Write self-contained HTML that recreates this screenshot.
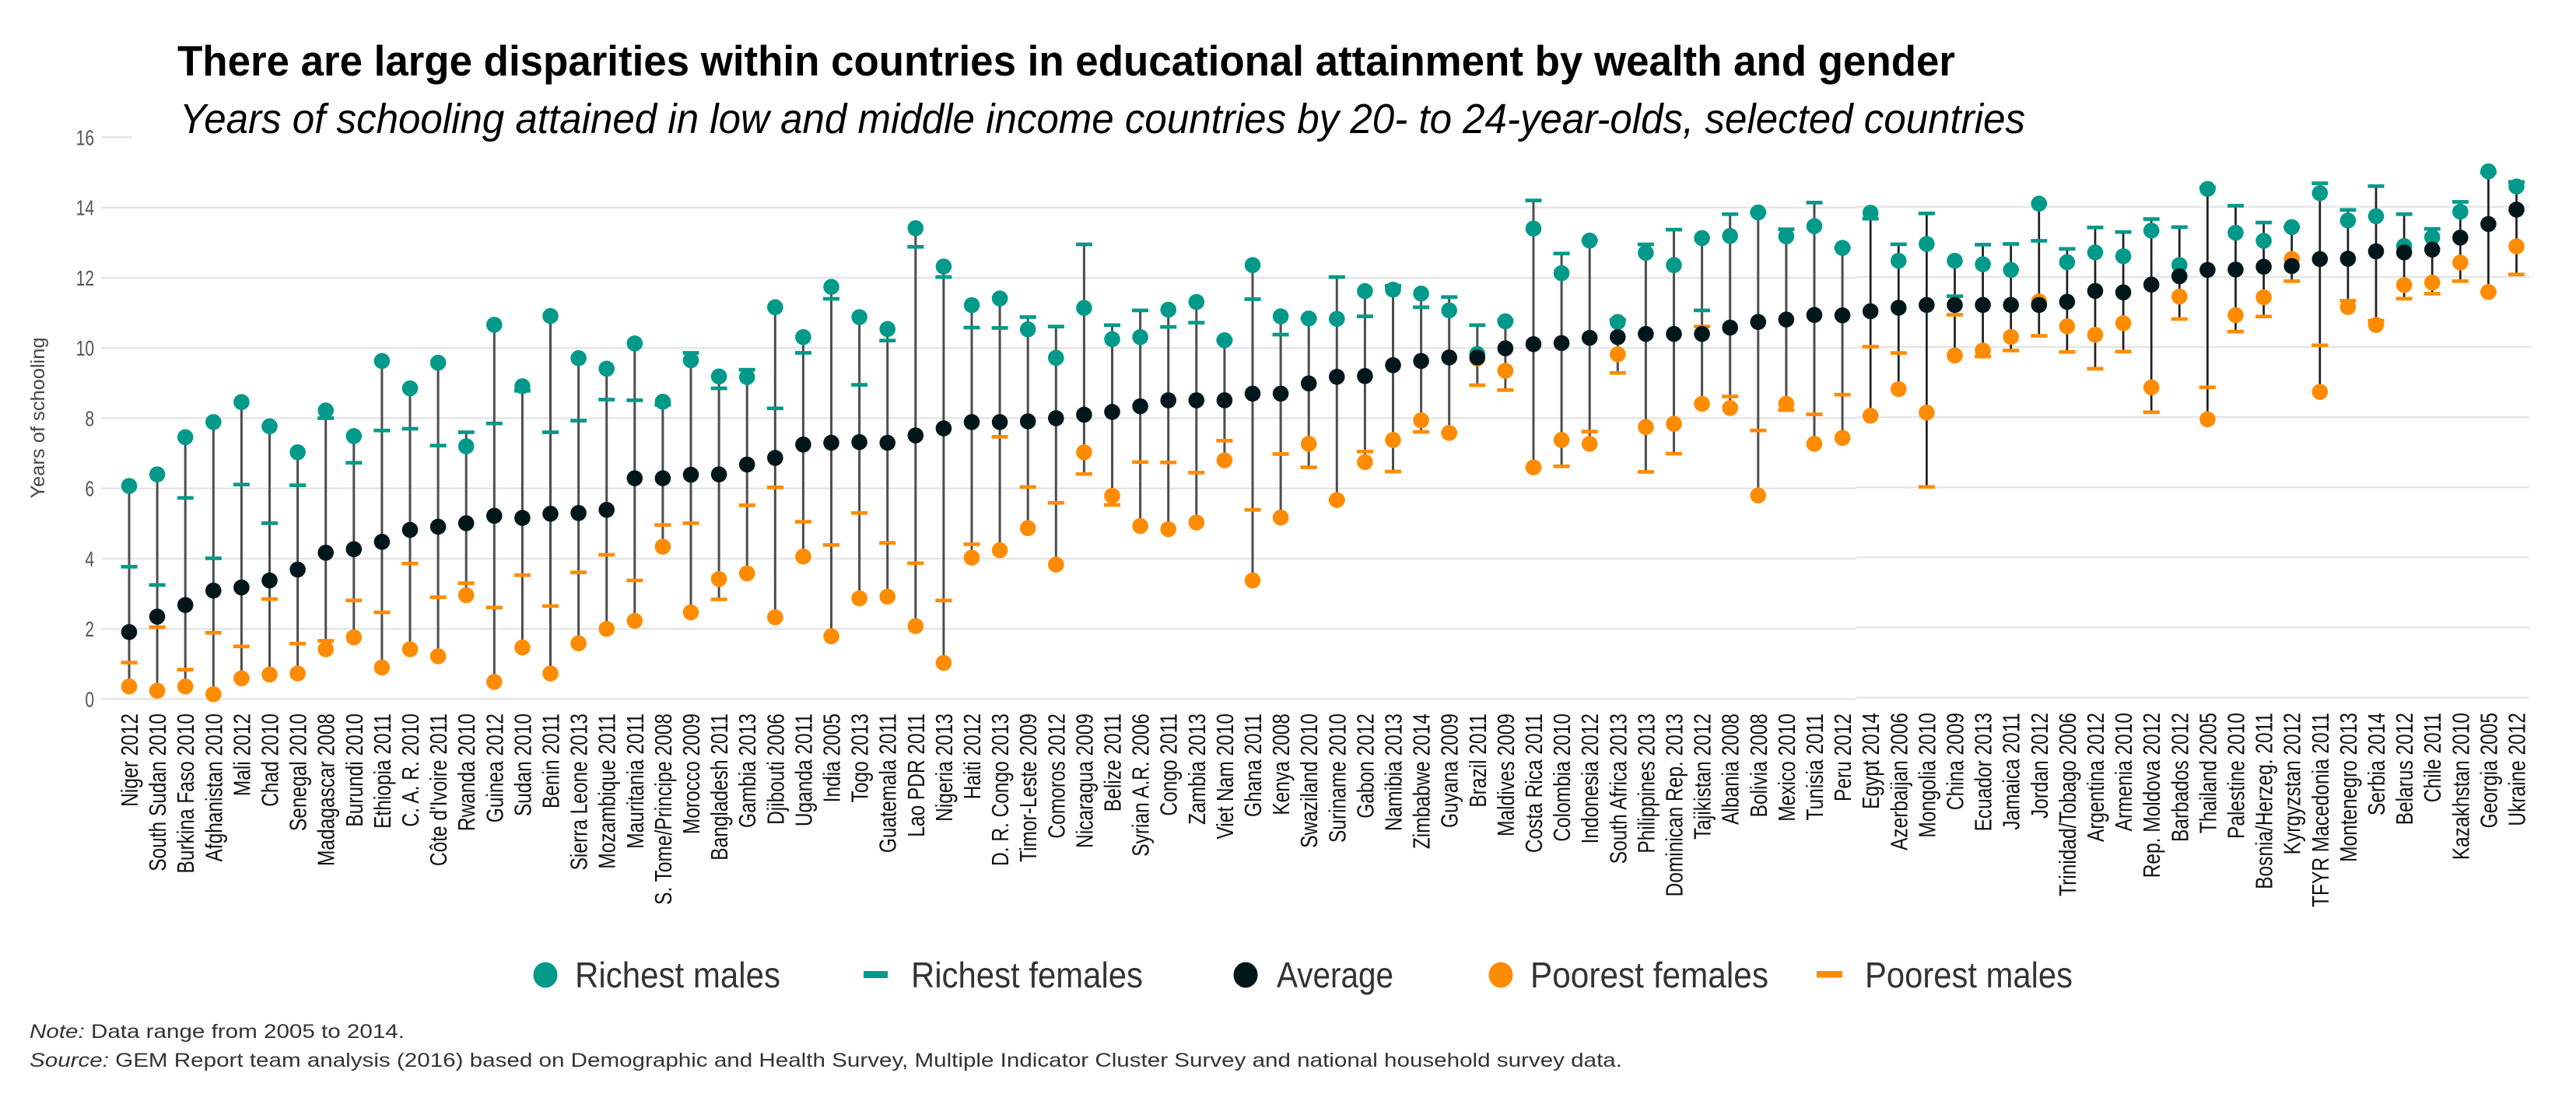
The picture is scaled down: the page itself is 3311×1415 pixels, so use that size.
<!DOCTYPE html>
<html><head><meta charset="utf-8">
<style>
html,body{margin:0;padding:0;background:#fff;}
body{width:3311px;height:1415px;overflow:hidden;}
svg{position:absolute;left:0;top:0;}
text{font-family:"Liberation Sans",sans-serif;}
</style></head>
<body>
<svg width="3311" height="1415" viewBox="0 0 3311 1415" xmlns="http://www.w3.org/2000/svg">
<defs>
<ellipse id="rm" rx="0.285" ry="0.228" fill="#00998a"/>
<ellipse id="pf" rx="0.285" ry="0.228" fill="#ff8c00"/>
<ellipse id="av" rx="0.285" ry="0.228" fill="#02171b"/>
<rect id="rf" x="-0.291" y="-0.052" width="0.582" height="0.104" fill="#00998a"/>
<rect id="pm" x="-0.291" y="-0.052" width="0.582" height="0.104" fill="#ff8c00"/>
<ellipse id="rmR" rx="0.285" ry="0.2285" fill="#00998a"/>
</defs>

<!-- gridlines -->
<g stroke="#e6e6e6" stroke-width="2.5">
<line x1="130" y1="176.4" x2="170" y2="176.4"/>
<line x1="130" y1="898.5" x2="2386" y2="898.5"/>
<line x1="130" y1="808.2" x2="2386" y2="808.2"/>
<line x1="130" y1="718.0" x2="2386" y2="718.0"/>
<line x1="130" y1="627.7" x2="2386" y2="627.7"/>
<line x1="130" y1="537.5" x2="2386" y2="537.5"/>
<line x1="130" y1="447.2" x2="2386" y2="447.2"/>
<line x1="130" y1="357.0" x2="2386" y2="357.0"/>
<line x1="130" y1="266.7" x2="2386" y2="266.7"/>
<line x1="2386" y1="896.6" x2="3251" y2="896.6"/>
<line x1="2386" y1="806.5" x2="3251" y2="806.5"/>
<line x1="2386" y1="716.4" x2="3251" y2="716.4"/>
<line x1="2386" y1="626.2" x2="3251" y2="626.2"/>
<line x1="2386" y1="536.1" x2="3251" y2="536.1"/>
<line x1="2386" y1="446.0" x2="3251" y2="446.0"/>
<line x1="2386" y1="355.9" x2="3251" y2="355.9"/>
<line x1="2386" y1="265.8" x2="3251" y2="265.8"/>
</g>

<!-- y tick labels -->
<g fill="#555" font-size="28" text-anchor="end">
<text transform="translate(121,908.5) scale(0.75,1)">0</text>
<text transform="translate(121,818.2) scale(0.75,1)">2</text>
<text transform="translate(121,728.0) scale(0.75,1)">4</text>
<text transform="translate(121,637.7) scale(0.75,1)">6</text>
<text transform="translate(121,547.5) scale(0.75,1)">8</text>
<text transform="translate(121,457.2) scale(0.75,1)">10</text>
<text transform="translate(121,367.0) scale(0.75,1)">12</text>
<text transform="translate(121,276.7) scale(0.75,1)">14</text>
<text transform="translate(121,186.4) scale(0.75,1)">16</text>
</g>
<text transform="translate(57,537) rotate(-90)" text-anchor="middle" font-size="25" fill="#444" textLength="207" lengthAdjust="spacingAndGlyphs">Years of schooling</text>

<!-- Title -->
<text x="228" y="97" font-size="55" font-weight="bold" fill="#000" textLength="2285" lengthAdjust="spacingAndGlyphs">There are large disparities within countries in educational attainment by wealth and gender</text>
<text x="231" y="171" font-size="54" font-style="italic" fill="#000" textLength="2372" lengthAdjust="spacingAndGlyphs">Years of schooling attained in low and middle income countries by 20- to 24-year-olds, selected countries</text>

<!-- LEFT data group -->
<g transform="translate(129.9,898.5) scale(36.1,-45.13)">
<path fill="none" stroke="#4d4d4d" stroke-width="3" vector-effect="non-scaling-stroke" d="M1 0.36V6.07M2 0.24V6.40M3 0.36V7.46M4 0.14V7.89M5 0.59V8.46M6 0.70V7.77M7 0.73V7.03M8 1.42V8.22M9 1.76V7.49M10 0.90V9.63M11 1.42V8.85M12 1.22V9.58M13 2.96V7.60M14 0.49V10.66M15 1.47V8.91M16 0.73V10.91M17 1.59V9.71M18 2.00V9.41M19 2.23V10.13M20 4.34V8.47M21 2.47V9.86M22 2.84V9.19M23 3.58V9.38M24 2.33V11.16M25 4.06V10.31M26 1.79V11.74M27 2.87V10.88M28 2.92V10.54M29 2.08V13.41M30 1.03V12.32M31 4.03V11.22M32 4.24V11.41M33 4.87V10.88M34 3.83V10.61M35 6.41V12.95M36 5.53V10.65M37 4.93V11.07M38 4.84V11.09M39 5.03V11.31M40 6.80V10.22M41 3.38V12.36M42 5.17V10.90M43 6.60V10.84M44 5.67V12.02M45 6.75V11.62M46 6.48V11.75M47 7.61V11.55M48 7.58V11.45M49 8.94V10.65M50 8.80V10.76M51 6.60V14.20M52 6.63V12.69M53 7.27V13.06M54 9.29V10.78M55 6.47V12.95M56 6.99V13.37M57 8.41V13.13M58 8.29V13.81M59 5.80V13.86M60 8.23V13.38M61 7.27V14.14M62 7.44V12.85"/>
<!-- richest females -->
<use href="#rf" x="1" y="3.77"/><use href="#rf" x="2" y="3.25"/><use href="#rf" x="3" y="5.73"/><use href="#rf" x="4" y="4.01"/><use href="#rf" x="5" y="6.11"/><use href="#rf" x="6" y="5.01"/><use href="#rf" x="7" y="6.09"/><use href="#rf" x="8" y="8.00"/><use href="#rf" x="9" y="6.73"/><use href="#rf" x="10" y="7.65"/><use href="#rf" x="11" y="7.70"/><use href="#rf" x="12" y="7.22"/><use href="#rf" x="13" y="7.60"/><use href="#rf" x="14" y="7.85"/><use href="#rf" x="15" y="8.78"/><use href="#rf" x="16" y="7.60"/><use href="#rf" x="17" y="7.93"/><use href="#rf" x="18" y="8.53"/><use href="#rf" x="19" y="8.51"/><use href="#rf" x="20" y="8.38"/><use href="#rf" x="21" y="9.86"/><use href="#rf" x="22" y="8.85"/><use href="#rf" x="23" y="9.38"/><use href="#rf" x="24" y="8.28"/><use href="#rf" x="25" y="9.86"/><use href="#rf" x="26" y="11.40"/><use href="#rf" x="27" y="8.95"/><use href="#rf" x="28" y="10.21"/><use href="#rf" x="29" y="12.88"/><use href="#rf" x="30" y="12.02"/><use href="#rf" x="31" y="10.58"/><use href="#rf" x="32" y="10.57"/><use href="#rf" x="33" y="10.88"/><use href="#rf" x="34" y="10.61"/><use href="#rf" x="35" y="12.95"/><use href="#rf" x="36" y="10.65"/><use href="#rf" x="37" y="11.07"/><use href="#rf" x="38" y="10.60"/><use href="#rf" x="39" y="10.72"/><use href="#rf" x="40" y="10.22"/><use href="#rf" x="41" y="11.39"/><use href="#rf" x="42" y="10.38"/><use href="#rf" x="43" y="10.84"/><use href="#rf" x="44" y="12.02"/><use href="#rf" x="45" y="10.90"/><use href="#rf" x="46" y="11.77"/><use href="#rf" x="47" y="11.16"/><use href="#rf" x="48" y="11.45"/><use href="#rf" x="49" y="10.65"/><use href="#rf" x="50" y="10.78"/><use href="#rf" x="51" y="14.20"/><use href="#rf" x="52" y="12.69"/><use href="#rf" x="53" y="13.06"/><use href="#rf" x="54" y="10.80"/><use href="#rf" x="55" y="12.95"/><use href="#rf" x="56" y="13.37"/><use href="#rf" x="57" y="11.07"/><use href="#rf" x="58" y="13.81"/><use href="#rf" x="59" y="13.86"/><use href="#rf" x="60" y="13.38"/><use href="#rf" x="61" y="14.14"/><use href="#rf" x="62" y="12.85"/>
<!-- poorest males -->
<use href="#pm" x="1" y="1.04"/><use href="#pm" x="2" y="2.05"/><use href="#pm" x="3" y="0.84"/><use href="#pm" x="4" y="1.89"/><use href="#pm" x="5" y="1.50"/><use href="#pm" x="6" y="2.85"/><use href="#pm" x="7" y="1.58"/><use href="#pm" x="8" y="1.66"/><use href="#pm" x="9" y="2.81"/><use href="#pm" x="10" y="2.47"/><use href="#pm" x="11" y="3.86"/><use href="#pm" x="12" y="2.90"/><use href="#pm" x="13" y="3.30"/><use href="#pm" x="14" y="2.61"/><use href="#pm" x="15" y="3.53"/><use href="#pm" x="16" y="2.65"/><use href="#pm" x="17" y="3.61"/><use href="#pm" x="18" y="4.11"/><use href="#pm" x="19" y="3.38"/><use href="#pm" x="20" y="4.96"/><use href="#pm" x="21" y="5.01"/><use href="#pm" x="22" y="2.84"/><use href="#pm" x="23" y="5.52"/><use href="#pm" x="24" y="6.03"/><use href="#pm" x="25" y="5.05"/><use href="#pm" x="26" y="4.39"/><use href="#pm" x="27" y="5.30"/><use href="#pm" x="28" y="4.45"/><use href="#pm" x="29" y="3.87"/><use href="#pm" x="30" y="2.81"/><use href="#pm" x="31" y="4.41"/><use href="#pm" x="32" y="7.47"/><use href="#pm" x="33" y="6.04"/><use href="#pm" x="34" y="5.59"/><use href="#pm" x="35" y="6.41"/><use href="#pm" x="36" y="5.53"/><use href="#pm" x="37" y="6.75"/><use href="#pm" x="38" y="6.74"/><use href="#pm" x="39" y="6.45"/><use href="#pm" x="40" y="7.36"/><use href="#pm" x="41" y="5.39"/><use href="#pm" x="42" y="6.98"/><use href="#pm" x="43" y="6.60"/><use href="#pm" x="44" y="5.67"/><use href="#pm" x="45" y="7.05"/><use href="#pm" x="46" y="6.48"/><use href="#pm" x="47" y="7.61"/><use href="#pm" x="48" y="7.58"/><use href="#pm" x="49" y="8.94"/><use href="#pm" x="50" y="8.80"/><use href="#pm" x="51" y="6.60"/><use href="#pm" x="52" y="6.63"/><use href="#pm" x="53" y="7.62"/><use href="#pm" x="54" y="9.29"/><use href="#pm" x="55" y="6.47"/><use href="#pm" x="56" y="6.99"/><use href="#pm" x="57" y="10.61"/><use href="#pm" x="58" y="8.62"/><use href="#pm" x="59" y="7.65"/><use href="#pm" x="60" y="8.23"/><use href="#pm" x="61" y="8.11"/><use href="#pm" x="62" y="8.67"/>
<!-- richest males -->
<use href="#rm" x="1" y="6.07"/><use href="#rm" x="2" y="6.40"/><use href="#rm" x="3" y="7.46"/><use href="#rm" x="4" y="7.89"/><use href="#rm" x="5" y="8.46"/><use href="#rm" x="6" y="7.77"/><use href="#rm" x="7" y="7.03"/><use href="#rm" x="8" y="8.22"/><use href="#rm" x="9" y="7.49"/><use href="#rm" x="10" y="9.63"/><use href="#rm" x="11" y="8.85"/><use href="#rm" x="12" y="9.58"/><use href="#rm" x="13" y="7.20"/><use href="#rm" x="14" y="10.66"/><use href="#rm" x="15" y="8.91"/><use href="#rm" x="16" y="10.91"/><use href="#rm" x="17" y="9.71"/><use href="#rm" x="18" y="9.41"/><use href="#rm" x="19" y="10.13"/><use href="#rm" x="20" y="8.47"/><use href="#rm" x="21" y="9.65"/><use href="#rm" x="22" y="9.19"/><use href="#rm" x="23" y="9.17"/><use href="#rm" x="24" y="11.16"/><use href="#rm" x="25" y="10.31"/><use href="#rm" x="26" y="11.74"/><use href="#rm" x="27" y="10.88"/><use href="#rm" x="28" y="10.54"/><use href="#rm" x="29" y="13.41"/><use href="#rm" x="30" y="12.32"/><use href="#rm" x="31" y="11.22"/><use href="#rm" x="32" y="11.41"/><use href="#rm" x="33" y="10.53"/><use href="#rm" x="34" y="9.72"/><use href="#rm" x="35" y="11.14"/><use href="#rm" x="36" y="10.25"/><use href="#rm" x="37" y="10.31"/><use href="#rm" x="38" y="11.09"/><use href="#rm" x="39" y="11.31"/><use href="#rm" x="40" y="10.22"/><use href="#rm" x="41" y="12.36"/><use href="#rm" x="42" y="10.90"/><use href="#rm" x="43" y="10.84"/><use href="#rm" x="44" y="10.83"/><use href="#rm" x="45" y="11.62"/><use href="#rm" x="46" y="11.66"/><use href="#rm" x="47" y="11.55"/><use href="#rm" x="48" y="11.07"/><use href="#rm" x="49" y="9.83"/><use href="#rm" x="50" y="10.76"/><use href="#rm" x="51" y="13.40"/><use href="#rm" x="52" y="12.13"/><use href="#rm" x="53" y="13.06"/><use href="#rm" x="54" y="10.74"/><use href="#rm" x="55" y="12.71"/><use href="#rm" x="56" y="12.36"/><use href="#rm" x="57" y="13.13"/><use href="#rm" x="58" y="13.19"/><use href="#rm" x="59" y="13.86"/><use href="#rm" x="60" y="13.18"/><use href="#rm" x="61" y="13.47"/><use href="#rm" x="62" y="12.85"/>
<!-- poorest females -->
<use href="#pf" x="1" y="0.36"/><use href="#pf" x="2" y="0.24"/><use href="#pf" x="3" y="0.36"/><use href="#pf" x="4" y="0.14"/><use href="#pf" x="5" y="0.59"/><use href="#pf" x="6" y="0.70"/><use href="#pf" x="7" y="0.73"/><use href="#pf" x="8" y="1.42"/><use href="#pf" x="9" y="1.76"/><use href="#pf" x="10" y="0.90"/><use href="#pf" x="11" y="1.42"/><use href="#pf" x="12" y="1.22"/><use href="#pf" x="13" y="2.96"/><use href="#pf" x="14" y="0.49"/><use href="#pf" x="15" y="1.47"/><use href="#pf" x="16" y="0.73"/><use href="#pf" x="17" y="1.59"/><use href="#pf" x="18" y="2.00"/><use href="#pf" x="19" y="2.23"/><use href="#pf" x="20" y="4.34"/><use href="#pf" x="21" y="2.47"/><use href="#pf" x="22" y="3.42"/><use href="#pf" x="23" y="3.58"/><use href="#pf" x="24" y="2.33"/><use href="#pf" x="25" y="4.06"/><use href="#pf" x="26" y="1.79"/><use href="#pf" x="27" y="2.87"/><use href="#pf" x="28" y="2.92"/><use href="#pf" x="29" y="2.08"/><use href="#pf" x="30" y="1.03"/><use href="#pf" x="31" y="4.03"/><use href="#pf" x="32" y="4.24"/><use href="#pf" x="33" y="4.87"/><use href="#pf" x="34" y="3.83"/><use href="#pf" x="35" y="7.03"/><use href="#pf" x="36" y="5.79"/><use href="#pf" x="37" y="4.93"/><use href="#pf" x="38" y="4.84"/><use href="#pf" x="39" y="5.03"/><use href="#pf" x="40" y="6.80"/><use href="#pf" x="41" y="3.38"/><use href="#pf" x="42" y="5.17"/><use href="#pf" x="43" y="7.27"/><use href="#pf" x="44" y="5.67"/><use href="#pf" x="45" y="6.75"/><use href="#pf" x="46" y="7.38"/><use href="#pf" x="47" y="7.94"/><use href="#pf" x="48" y="7.58"/><use href="#pf" x="49" y="9.70"/><use href="#pf" x="50" y="9.35"/><use href="#pf" x="51" y="6.60"/><use href="#pf" x="52" y="7.38"/><use href="#pf" x="53" y="7.27"/><use href="#pf" x="54" y="9.82"/><use href="#pf" x="55" y="7.75"/><use href="#pf" x="56" y="7.84"/><use href="#pf" x="57" y="8.41"/><use href="#pf" x="58" y="8.29"/><use href="#pf" x="59" y="5.80"/><use href="#pf" x="60" y="8.41"/><use href="#pf" x="61" y="7.27"/><use href="#pf" x="62" y="7.44"/>
<!-- average -->
<use href="#av" x="1" y="1.91"/><use href="#av" x="2" y="2.35"/><use href="#av" x="3" y="2.68"/><use href="#av" x="4" y="3.09"/><use href="#av" x="5" y="3.18"/><use href="#av" x="6" y="3.38"/><use href="#av" x="7" y="3.69"/><use href="#av" x="8" y="4.17"/><use href="#av" x="9" y="4.27"/><use href="#av" x="10" y="4.48"/><use href="#av" x="11" y="4.82"/><use href="#av" x="12" y="4.91"/><use href="#av" x="13" y="5.01"/><use href="#av" x="14" y="5.22"/><use href="#av" x="15" y="5.16"/><use href="#av" x="16" y="5.28"/><use href="#av" x="17" y="5.30"/><use href="#av" x="18" y="5.39"/><use href="#av" x="19" y="6.29"/><use href="#av" x="20" y="6.29"/><use href="#av" x="21" y="6.39"/><use href="#av" x="22" y="6.40"/><use href="#av" x="23" y="6.68"/><use href="#av" x="24" y="6.87"/><use href="#av" x="25" y="7.25"/><use href="#av" x="26" y="7.30"/><use href="#av" x="27" y="7.32"/><use href="#av" x="28" y="7.30"/><use href="#av" x="29" y="7.51"/><use href="#av" x="30" y="7.71"/><use href="#av" x="31" y="7.89"/><use href="#av" x="32" y="7.89"/><use href="#av" x="33" y="7.91"/><use href="#av" x="34" y="8.00"/><use href="#av" x="35" y="8.10"/><use href="#av" x="36" y="8.18"/><use href="#av" x="37" y="8.34"/><use href="#av" x="38" y="8.51"/><use href="#av" x="39" y="8.51"/><use href="#av" x="40" y="8.51"/><use href="#av" x="41" y="8.70"/><use href="#av" x="42" y="8.70"/><use href="#av" x="43" y="8.99"/><use href="#av" x="44" y="9.18"/><use href="#av" x="45" y="9.20"/><use href="#av" x="46" y="9.51"/><use href="#av" x="47" y="9.63"/><use href="#av" x="48" y="9.73"/><use href="#av" x="49" y="9.73"/><use href="#av" x="50" y="9.99"/><use href="#av" x="51" y="10.11"/><use href="#av" x="52" y="10.14"/><use href="#av" x="53" y="10.29"/><use href="#av" x="54" y="10.31"/><use href="#av" x="55" y="10.40"/><use href="#av" x="56" y="10.40"/><use href="#av" x="57" y="10.40"/><use href="#av" x="58" y="10.58"/><use href="#av" x="59" y="10.74"/><use href="#av" x="60" y="10.81"/><use href="#av" x="61" y="10.94"/><use href="#av" x="62" y="10.93"/>
</g>

<!-- RIGHT data group -->
<g transform="translate(129.9,896.6) scale(36.1,-45.06)">
<path fill="none" stroke="#1e1e1e" stroke-width="2.7" vector-effect="non-scaling-stroke" d="M63 8.04V13.83M64 8.80V12.93M65 6.01V13.81M66 9.76V12.46M67 9.73V12.92M68 9.90V12.94M69 10.32V14.09M70 9.86V12.80M71 9.38V13.41M72 9.87V13.28M73 8.14V13.65M74 10.80V13.42M75 7.94V14.51M76 10.44V14.03M77 10.87V13.55M78 11.88V13.42M79 8.72V14.67M80 11.14V13.91M81 10.63V14.59M82 11.38V13.79M83 11.52V13.37M84 11.88V14.14M85 11.57V15.01M86 12.07V14.71"/>
<use href="#rf" x="63" y="13.66"/><use href="#rf" x="64" y="12.93"/><use href="#rf" x="65" y="13.81"/><use href="#rf" x="66" y="11.45"/><use href="#rf" x="67" y="12.92"/><use href="#rf" x="68" y="12.94"/><use href="#rf" x="69" y="13.03"/><use href="#rf" x="70" y="12.80"/><use href="#rf" x="71" y="13.41"/><use href="#rf" x="72" y="13.28"/><use href="#rf" x="73" y="13.65"/><use href="#rf" x="74" y="13.42"/><use href="#rf" x="75" y="14.55"/><use href="#rf" x="76" y="14.03"/><use href="#rf" x="77" y="13.55"/><use href="#rf" x="78" y="13.42"/><use href="#rf" x="79" y="14.67"/><use href="#rf" x="80" y="13.91"/><use href="#rf" x="81" y="14.59"/><use href="#rf" x="82" y="13.79"/><use href="#rf" x="83" y="13.37"/><use href="#rf" x="84" y="14.14"/><use href="#rf" x="85" y="14.98"/><use href="#rf" x="86" y="14.71"/>
<use href="#pm" x="63" y="10.01"/><use href="#pm" x="64" y="9.83"/><use href="#pm" x="65" y="6.01"/><use href="#pm" x="66" y="10.92"/><use href="#pm" x="67" y="9.73"/><use href="#pm" x="68" y="9.90"/><use href="#pm" x="69" y="10.32"/><use href="#pm" x="70" y="9.86"/><use href="#pm" x="71" y="9.38"/><use href="#pm" x="72" y="9.87"/><use href="#pm" x="73" y="8.14"/><use href="#pm" x="74" y="10.80"/><use href="#pm" x="75" y="8.85"/><use href="#pm" x="76" y="10.44"/><use href="#pm" x="77" y="10.87"/><use href="#pm" x="78" y="11.88"/><use href="#pm" x="79" y="10.05"/><use href="#pm" x="80" y="11.32"/><use href="#pm" x="81" y="10.75"/><use href="#pm" x="82" y="11.38"/><use href="#pm" x="83" y="11.52"/><use href="#pm" x="84" y="11.88"/><use href="#pm" x="85" y="11.57"/><use href="#pm" x="86" y="12.07"/>
<use href="#rm" x="63" y="13.83"/><use href="#rm" x="64" y="12.46"/><use href="#rm" x="65" y="12.94"/><use href="#rm" x="66" y="12.46"/><use href="#rm" x="67" y="12.36"/><use href="#rm" x="68" y="12.20"/><use href="#rm" x="69" y="14.09"/><use href="#rm" x="70" y="12.42"/><use href="#rm" x="71" y="12.70"/><use href="#rm" x="72" y="12.59"/><use href="#rm" x="73" y="13.32"/><use href="#rm" x="74" y="12.34"/><use href="#rm" x="75" y="14.51"/><use href="#rm" x="76" y="13.26"/><use href="#rm" x="77" y="13.03"/><use href="#rm" x="78" y="13.42"/><use href="#rm" x="79" y="14.39"/><use href="#rm" x="80" y="13.61"/><use href="#rm" x="81" y="13.73"/><use href="#rm" x="82" y="12.88"/><use href="#rm" x="83" y="13.13"/><use href="#rm" x="84" y="13.86"/><use href="#rm" x="85" y="15.01"/><use href="#rm" x="86" y="14.58"/>
<use href="#pf" x="63" y="8.04"/><use href="#pf" x="64" y="8.80"/><use href="#pf" x="65" y="8.13"/><use href="#pf" x="66" y="9.76"/><use href="#pf" x="67" y="9.90"/><use href="#pf" x="68" y="10.29"/><use href="#pf" x="69" y="11.30"/><use href="#pf" x="70" y="10.59"/><use href="#pf" x="71" y="10.35"/><use href="#pf" x="72" y="10.68"/><use href="#pf" x="73" y="8.85"/><use href="#pf" x="74" y="11.44"/><use href="#pf" x="75" y="7.94"/><use href="#pf" x="76" y="10.91"/><use href="#pf" x="77" y="11.42"/><use href="#pf" x="78" y="12.51"/><use href="#pf" x="79" y="8.72"/><use href="#pf" x="80" y="11.14"/><use href="#pf" x="81" y="10.63"/><use href="#pf" x="82" y="11.77"/><use href="#pf" x="83" y="11.84"/><use href="#pf" x="84" y="12.41"/><use href="#pf" x="85" y="11.57"/><use href="#pf" x="86" y="12.87"/>
<use href="#av" x="63" y="11.02"/><use href="#av" x="64" y="11.12"/><use href="#av" x="65" y="11.20"/><use href="#av" x="66" y="11.20"/><use href="#av" x="67" y="11.20"/><use href="#av" x="68" y="11.20"/><use href="#av" x="69" y="11.20"/><use href="#av" x="70" y="11.29"/><use href="#av" x="71" y="11.60"/><use href="#av" x="72" y="11.56"/><use href="#av" x="73" y="11.78"/><use href="#av" x="74" y="12.02"/><use href="#av" x="75" y="12.20"/><use href="#av" x="76" y="12.21"/><use href="#av" x="77" y="12.29"/><use href="#av" x="78" y="12.31"/><use href="#av" x="79" y="12.51"/><use href="#av" x="80" y="12.52"/><use href="#av" x="81" y="12.73"/><use href="#av" x="82" y="12.70"/><use href="#av" x="83" y="12.78"/><use href="#av" x="84" y="13.12"/><use href="#av" x="85" y="13.51"/><use href="#av" x="86" y="13.92"/>
</g>

<!-- country labels -->
<g font-size="31" fill="#111" text-anchor="end">
<text transform="translate(177.0,917) rotate(-90) scale(0.79,1)">Niger 2012</text>
<text transform="translate(213.1,917) rotate(-90) scale(0.79,1)">South Sudan 2010</text>
<text transform="translate(249.2,917) rotate(-90) scale(0.79,1)">Burkina Faso 2010</text>
<text transform="translate(285.3,917) rotate(-90) scale(0.79,1)">Afghanistan 2010</text>
<text transform="translate(321.4,917) rotate(-90) scale(0.79,1)">Mali 2012</text>
<text transform="translate(357.5,917) rotate(-90) scale(0.79,1)">Chad 2010</text>
<text transform="translate(393.6,917) rotate(-90) scale(0.79,1)">Senegal 2010</text>
<text transform="translate(429.7,917) rotate(-90) scale(0.79,1)">Madagascar 2008</text>
<text transform="translate(465.8,917) rotate(-90) scale(0.79,1)">Burundi 2010</text>
<text transform="translate(501.9,917) rotate(-90) scale(0.79,1)">Ethiopia 2011</text>
<text transform="translate(538.0,917) rotate(-90) scale(0.79,1)">C. A. R. 2010</text>
<text transform="translate(574.1,917) rotate(-90) scale(0.79,1)">Côte d'Ivoire 2011</text>
<text transform="translate(610.2,917) rotate(-90) scale(0.79,1)">Rwanda 2010</text>
<text transform="translate(646.3,917) rotate(-90) scale(0.79,1)">Guinea 2012</text>
<text transform="translate(682.4,917) rotate(-90) scale(0.79,1)">Sudan 2010</text>
<text transform="translate(718.5,917) rotate(-90) scale(0.79,1)">Benin 2011</text>
<text transform="translate(754.6,917) rotate(-90) scale(0.79,1)">Sierra Leone 2013</text>
<text transform="translate(790.7,917) rotate(-90) scale(0.79,1)">Mozambique 2011</text>
<text transform="translate(826.8,917) rotate(-90) scale(0.79,1)">Mauritania 2011</text>
<text transform="translate(862.9,917) rotate(-90) scale(0.79,1)">S. Tome/Principe 2008</text>
<text transform="translate(899.0,917) rotate(-90) scale(0.79,1)">Morocco 2009</text>
<text transform="translate(935.1,917) rotate(-90) scale(0.79,1)">Bangladesh 2011</text>
<text transform="translate(971.2,917) rotate(-90) scale(0.79,1)">Gambia 2013</text>
<text transform="translate(1007.3,917) rotate(-90) scale(0.79,1)">Djibouti 2006</text>
<text transform="translate(1043.4,917) rotate(-90) scale(0.79,1)">Uganda 2011</text>
<text transform="translate(1079.5,917) rotate(-90) scale(0.79,1)">India 2005</text>
<text transform="translate(1115.6,917) rotate(-90) scale(0.79,1)">Togo 2013</text>
<text transform="translate(1151.7,917) rotate(-90) scale(0.79,1)">Guatemala 2011</text>
<text transform="translate(1187.8,917) rotate(-90) scale(0.79,1)">Lao PDR 2011</text>
<text transform="translate(1223.9,917) rotate(-90) scale(0.79,1)">Nigeria 2013</text>
<text transform="translate(1260.0,917) rotate(-90) scale(0.79,1)">Haiti 2012</text>
<text transform="translate(1296.1,917) rotate(-90) scale(0.79,1)">D. R. Congo 2013</text>
<text transform="translate(1332.2,917) rotate(-90) scale(0.79,1)">Timor-Leste 2009</text>
<text transform="translate(1368.3,917) rotate(-90) scale(0.79,1)">Comoros 2012</text>
<text transform="translate(1404.4,917) rotate(-90) scale(0.79,1)">Nicaragua 2009</text>
<text transform="translate(1440.5,917) rotate(-90) scale(0.79,1)">Belize 2011</text>
<text transform="translate(1476.6,917) rotate(-90) scale(0.79,1)">Syrian A.R. 2006</text>
<text transform="translate(1512.7,917) rotate(-90) scale(0.79,1)">Congo 2011</text>
<text transform="translate(1548.8,917) rotate(-90) scale(0.79,1)">Zambia 2013</text>
<text transform="translate(1584.9,917) rotate(-90) scale(0.79,1)">Viet Nam 2010</text>
<text transform="translate(1621.0,917) rotate(-90) scale(0.79,1)">Ghana 2011</text>
<text transform="translate(1657.1,917) rotate(-90) scale(0.79,1)">Kenya 2008</text>
<text transform="translate(1693.2,917) rotate(-90) scale(0.79,1)">Swaziland 2010</text>
<text transform="translate(1729.3,917) rotate(-90) scale(0.79,1)">Suriname 2010</text>
<text transform="translate(1765.4,917) rotate(-90) scale(0.79,1)">Gabon 2012</text>
<text transform="translate(1801.5,917) rotate(-90) scale(0.79,1)">Namibia 2013</text>
<text transform="translate(1837.6,917) rotate(-90) scale(0.79,1)">Zimbabwe 2014</text>
<text transform="translate(1873.7,917) rotate(-90) scale(0.79,1)">Guyana 2009</text>
<text transform="translate(1909.8,917) rotate(-90) scale(0.79,1)">Brazil 2011</text>
<text transform="translate(1945.9,917) rotate(-90) scale(0.79,1)">Maldives 2009</text>
<text transform="translate(1982.0,917) rotate(-90) scale(0.79,1)">Costa Rica 2011</text>
<text transform="translate(2018.1,917) rotate(-90) scale(0.79,1)">Colombia 2010</text>
<text transform="translate(2054.2,917) rotate(-90) scale(0.79,1)">Indonesia 2012</text>
<text transform="translate(2090.3,917) rotate(-90) scale(0.79,1)">South Africa 2013</text>
<text transform="translate(2126.4,917) rotate(-90) scale(0.79,1)">Philippines 2013</text>
<text transform="translate(2162.5,917) rotate(-90) scale(0.79,1)">Dominican Rep. 2013</text>
<text transform="translate(2198.6,917) rotate(-90) scale(0.79,1)">Tajikistan 2012</text>
<text transform="translate(2234.7,917) rotate(-90) scale(0.79,1)">Albania 2008</text>
<text transform="translate(2270.8,917) rotate(-90) scale(0.79,1)">Bolivia 2008</text>
<text transform="translate(2306.9,917) rotate(-90) scale(0.79,1)">Mexico 2010</text>
<text transform="translate(2343.0,917) rotate(-90) scale(0.79,1)">Tunisia 2011</text>
<text transform="translate(2379.1,917) rotate(-90) scale(0.79,1)">Peru 2012</text>
<text transform="translate(2415.2,916) rotate(-90) scale(0.79,1)">Egypt 2014</text>
<text transform="translate(2451.3,916) rotate(-90) scale(0.79,1)">Azerbaijan 2006</text>
<text transform="translate(2487.4,916) rotate(-90) scale(0.79,1)">Mongolia 2010</text>
<text transform="translate(2523.5,916) rotate(-90) scale(0.79,1)">China 2009</text>
<text transform="translate(2559.6,916) rotate(-90) scale(0.79,1)">Ecuador 2013</text>
<text transform="translate(2595.7,916) rotate(-90) scale(0.79,1)">Jamaica 2011</text>
<text transform="translate(2631.8,916) rotate(-90) scale(0.79,1)">Jordan 2012</text>
<text transform="translate(2667.9,916) rotate(-90) scale(0.79,1)">Trinidad/Tobago 2006</text>
<text transform="translate(2704.0,916) rotate(-90) scale(0.79,1)">Argentina 2012</text>
<text transform="translate(2740.1,916) rotate(-90) scale(0.79,1)">Armenia 2010</text>
<text transform="translate(2776.2,916) rotate(-90) scale(0.79,1)">Rep. Moldova 2012</text>
<text transform="translate(2812.3,916) rotate(-90) scale(0.79,1)">Barbados 2012</text>
<text transform="translate(2848.4,916) rotate(-90) scale(0.79,1)">Thailand 2005</text>
<text transform="translate(2884.5,916) rotate(-90) scale(0.79,1)">Palestine 2010</text>
<text transform="translate(2920.6,916) rotate(-90) scale(0.79,1)">Bosnia/Herzeg. 2011</text>
<text transform="translate(2956.7,916) rotate(-90) scale(0.79,1)">Kyrgyzstan 2012</text>
<text transform="translate(2992.8,916) rotate(-90) scale(0.79,1)">TFYR Macedonia 2011</text>
<text transform="translate(3028.9,916) rotate(-90) scale(0.79,1)">Montenegro 2013</text>
<text transform="translate(3065.0,916) rotate(-90) scale(0.79,1)">Serbia 2014</text>
<text transform="translate(3101.1,916) rotate(-90) scale(0.79,1)">Belarus 2012</text>
<text transform="translate(3137.2,916) rotate(-90) scale(0.79,1)">Chile 2011</text>
<text transform="translate(3173.3,916) rotate(-90) scale(0.79,1)">Kazakhstan 2010</text>
<text transform="translate(3209.4,916) rotate(-90) scale(0.79,1)">Georgia 2005</text>
<text transform="translate(3245.5,916) rotate(-90) scale(0.79,1)">Ukraine 2012</text>
</g>

<!-- legend -->
<g font-size="46" fill="#333">
<ellipse cx="701" cy="1253" rx="15.5" ry="16.5" fill="#00998a"/>
<text x="739" y="1269" textLength="264" lengthAdjust="spacingAndGlyphs">Richest males</text>
<rect x="1110" y="1248" width="31" height="9" fill="#00998a"/>
<text x="1171" y="1269" textLength="298" lengthAdjust="spacingAndGlyphs">Richest females</text>
<ellipse cx="1601" cy="1253" rx="15.5" ry="16.5" fill="#02171b"/>
<text x="1641" y="1269" textLength="150" lengthAdjust="spacingAndGlyphs">Average</text>
<ellipse cx="1929" cy="1253" rx="15.5" ry="16.5" fill="#ff8c00"/>
<text x="1967" y="1269" textLength="306" lengthAdjust="spacingAndGlyphs">Poorest females</text>
<rect x="2335" y="1248" width="33" height="8.5" fill="#ff8c00"/>
<text x="2397" y="1269" textLength="267" lengthAdjust="spacingAndGlyphs">Poorest males</text>
</g>

<!-- notes -->
<g font-size="25" fill="#333">
<text x="38" y="1334" textLength="482" lengthAdjust="spacingAndGlyphs"><tspan font-style="italic">Note:</tspan> Data range from 2005 to 2014.</text>
<text x="38" y="1371" textLength="2047" lengthAdjust="spacingAndGlyphs"><tspan font-style="italic">Source:</tspan> GEM Report team analysis (2016) based on Demographic and Health Survey, Multiple Indicator Cluster Survey and national household survey data.</text>
</g>
</svg>
</body></html>
